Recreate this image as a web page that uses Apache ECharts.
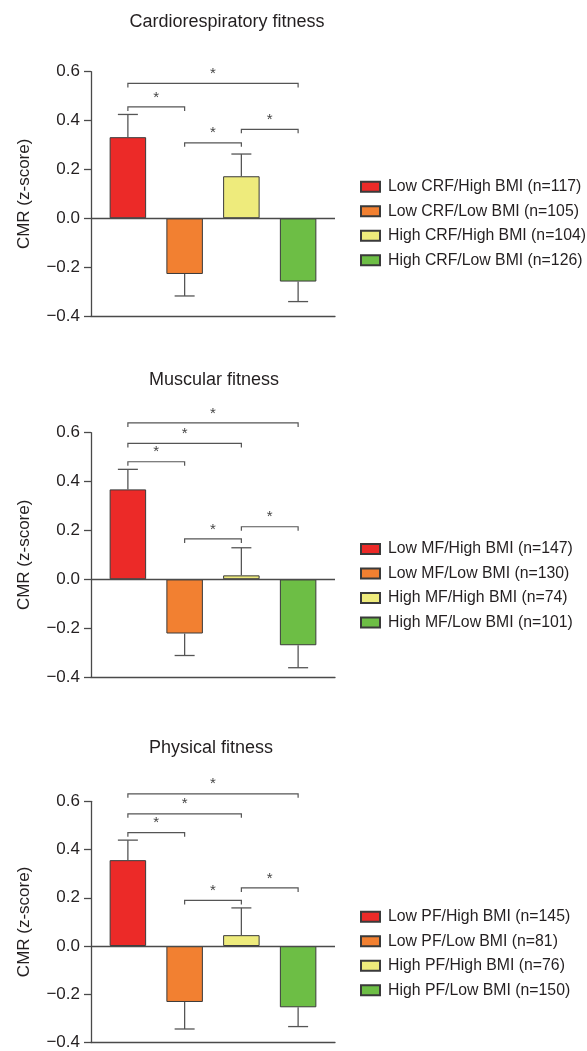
<!DOCTYPE html>
<html>
<head>
<meta charset="utf-8">
<script src="https://cdn.jsdelivr.net/npm/echarts@6/dist/echarts.min.js"></script>
<style>
html,body{margin:0;padding:0;background:#fff;}
#c{width:587px;height:1051px;}
</style>
</head>
<body>
<div id="c"></div>
<script>
// ---- data ----
const panelTitles = ['Cardiorespiratory fitness', 'Muscular fitness', 'Physical fitness'];
const groups1 = ['Low CRF/High BMI (n=117)', 'Low CRF/Low BMI (n=105)', 'High CRF/High BMI (n=104)', 'High CRF/Low BMI (n=126)'];
const groups2 = ['Low MF/High BMI (n=147)', 'Low MF/Low BMI (n=130)', 'High MF/High BMI (n=74)', 'High MF/Low BMI (n=101)'];
const groups3 = ['Low PF/High BMI (n=145)', 'Low PF/Low BMI (n=81)', 'High PF/High BMI (n=76)', 'High PF/Low BMI (n=150)'];
const means1 = [0.332, -0.228, 0.172, -0.259];
const errs1  = [0.093, 0.090, 0.091, 0.082];
const means2 = [0.368, -0.222, 0.016, -0.270];
const errs2  = [0.082, 0.090, 0.113, 0.092];
const means3 = [0.356, -0.232, 0.045, -0.254];
const errs3  = [0.083, 0.112, 0.113, 0.080];
// significance brackets: [from group, to group, height]
const brackets1 = [[1, 4, 0.552], [1, 2, 0.456], [2, 3, 0.309], [3, 4, 0.364]];
const brackets2 = [[1, 4, 0.640], [1, 3, 0.556], [1, 2, 0.481], [2, 3, 0.165], [3, 4, 0.215]];
const brackets3 = [[1, 4, 0.631], [1, 3, 0.548], [1, 2, 0.470], [2, 3, 0.189], [3, 4, 0.241]];
const yTicks = [-0.4, -0.2, 0.0, 0.2, 0.4, 0.6];
const yAxisName = 'CMR (z-score)';
const sigMark = '*';

// ---- style ----
const colors = ['#EC2A28', '#F28031', '#EEEB7C', '#6DBE45'];
const FONT = "'Liberation Sans', Arial, Helvetica, sans-serif";
const ink = '#231F20';
const lineCol = '#4a4a4a';

const panels = [
  {groups: groups1, means: means1, errs: errs1, brackets: brackets1, top: 71.7, titleX: 227, titleTop: 13, legendTop: 178.7},
  {groups: groups2, means: means2, errs: errs2, brackets: brackets2, top: 432.7, titleX: 214, titleTop: 371, legendTop: 541},
  {groups: groups3, means: means3, errs: errs3, brackets: brackets3, top: 801.3, titleX: 211, titleTop: 739, legendTop: 908.7}
];

const option = {
  animation: false,
  backgroundColor: '#fff',
  textStyle: {fontFamily: FONT},
  title: [], legend: [], grid: [], xAxis: [], yAxis: [], series: []
};

panels.forEach((p, k) => {
  option.title.push({
    text: panelTitles[k], left: p.titleX, top: p.titleTop, textAlign: 'center', padding: 0,
    textStyle: {fontFamily: FONT, fontSize: 18, fontWeight: 'normal', color: ink}
  });
  option.grid.push({left: 91, width: 244, top: p.top, height: 244.3});
  option.xAxis.push({
    type: 'value', gridIndex: k, min: 0.35, max: 4.65,
    axisLine: {show: true, onZero: false, lineStyle: {color: lineCol, width: 1.3}},
    axisTick: {show: false}, axisLabel: {show: false}, splitLine: {show: false}
  });
  option.yAxis.push({
    type: 'value', gridIndex: k, min: yTicks[0], max: yTicks[yTicks.length - 1], interval: 0.2,
    name: yAxisName, nameLocation: 'middle', nameGap: 58,
    nameTextStyle: {fontFamily: FONT, fontSize: 17, color: ink},
    axisLine: {show: true, onZero: false, lineStyle: {color: lineCol, width: 1.3}},
    axisTick: {show: true, length: 7, lineStyle: {color: lineCol, width: 1.3}},
    axisLabel: {
      fontFamily: FONT, fontSize: 17, color: ink, margin: 11,
      formatter: v => (v < -1e-9 ? '\u2212' : '') + Math.abs(v).toFixed(1)
    },
    splitLine: {show: false}
  });
  option.legend.push({
    orient: 'vertical', left: 360, top: p.legendTop, padding: 0,
    itemWidth: 19, itemHeight: 10, itemGap: 8.5, icon: 'rect',
    selectedMode: false,
    data: p.groups,
    textStyle: {fontFamily: FONT, fontSize: 15.8, color: ink, lineHeight: 16, padding: [0, 0, 0, 3]}
  });
  p.groups.forEach((g, i) => {
    const s = {
      type: 'bar', name: g, xAxisIndex: k, yAxisIndex: k,
      data: [[i + 1, p.means[i]]],
      barWidth: 36.5, barGap: '-100%',
      itemStyle: {color: colors[i], borderColor: '#3a3a3a', borderWidth: 1}
    };
    if (i === 0) {
      s.markLine = {
        silent: true, symbol: 'none', label: {show: false},
        lineStyle: {color: lineCol, width: 1.3, type: 'solid'},
        data: [{yAxis: 0}]
      };
    }
    option.series.push(s);
  });
  // error bars
  option.series.push({
    type: 'custom', xAxisIndex: k, yAxisIndex: k, clip: false, z: 3,
    data: p.means.map((m, i) => [i + 1, m, p.errs[i]]),
    encode: {x: 0, y: 1},
    renderItem: (params, api) => {
      const x = api.value(0), m = api.value(1), e = api.value(2);
      const tip = m + (m >= 0 ? e : -e);
      const a = api.coord([x, m]);
      const b = api.coord([x, tip]);
      const st = {stroke: '#555', lineWidth: 1.3, fill: null};
      return {type: 'group', children: [
        {type: 'line', shape: {x1: a[0], y1: a[1], x2: b[0], y2: b[1]}, style: st},
        {type: 'line', shape: {x1: b[0] - 10, y1: b[1], x2: b[0] + 10, y2: b[1]}, style: st}
      ]};
    }
  });
  // significance brackets
  option.series.push({
    type: 'custom', xAxisIndex: k, yAxisIndex: k, clip: false, z: 3,
    data: p.brackets,
    encode: {x: [0, 1], y: 2},
    renderItem: (params, api) => {
      const a = api.coord([api.value(0), api.value(2)]);
      const b = api.coord([api.value(1), api.value(2)]);
      return {type: 'group', children: [
        {type: 'polyline', shape: {points: [[a[0], a[1] + 4], [a[0], a[1]], [b[0], b[1]], [b[0], b[1] + 4]]},
         style: {stroke: '#555', lineWidth: 1.2, fill: null}},
        {type: 'text', x: (a[0] + b[0]) / 2, y: a[1] - 2,
         style: {text: sigMark, fontFamily: FONT, fontSize: 15, fill: '#444', align: 'center', verticalAlign: 'bottom'}}
      ]};
    }
  });
});

const chart = echarts.init(document.getElementById('c'), null, {renderer: 'canvas'});
chart.setOption(option);
</script>
</body>
</html>
